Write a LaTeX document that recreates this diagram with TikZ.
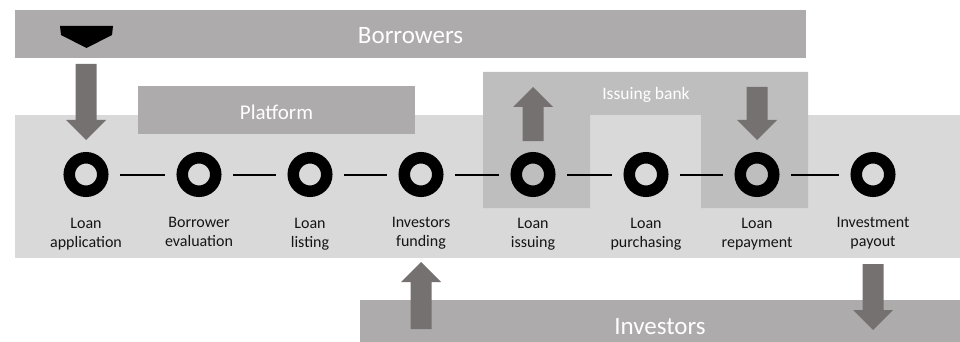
\documentclass[tikz,border=0pt]{standalone}
\usepackage{fontspec}
\setmainfont{Carlito}
\usetikzlibrary{calc}
\definecolor{bandgray}{HTML}{D9D9D9}
\definecolor{bargray}{HTML}{ADABAB}
\definecolor{bankgray}{HTML}{BFBEBE}
\definecolor{arrowgray}{HTML}{767171}
\definecolor{labelink}{HTML}{141414}

% Block arrow lined up with a node: #1 node, #2 tail y, #3 y where the head begins, #4 tip y
\newcommand\blockarrow[4]{%
  \fill[arrowfill]
    ([xshift=-10.5pt]#1 |- 0,#2) -- ([xshift=10.5pt]#1 |- 0,#2)
    -- ([xshift=10.5pt]#1 |- 0,#3) -- ([xshift=20pt]#1 |- 0,#3)
    -- (#1 |- 0,#4) -- ([xshift=-20pt]#1 |- 0,#3)
    -- ([xshift=-10.5pt]#1 |- 0,#3) -- cycle;}

\begin{document}
\begin{tikzpicture}[x=1pt,y=-1pt,
  bar/.style={fill=bargray, text=white, inner sep=0, text depth=0pt},
  stage/.style={circle, draw=black, line width=11.5pt, minimum size=33.5pt, inner sep=0},
  stagelabel/.style={anchor=north, align=center, inner sep=0, text=labelink,
    font=\fontsize{16}{19}\selectfont},
  link/.style={line width=2pt, shorten <=11.5pt, shorten >=11.5pt},
  arrowfill/.style={fill=arrowgray}]

\useasboundingbox (0,0) rectangle (960,342);
\clip (0,0) rectangle (960,342);

% process band
\fill[bandgray] (15,115) rectangle (960,258);

% issuing bank region, open over the purchasing stage
\fill[bankgray] (483,72) -- (808,72) -- (808,208) -- (701,208) -- (701,115)
  -- (590,115) -- (590,208) -- (483,208) -- cycle;
\node[anchor=base, text=white, inner sep=0, font=\fontsize{17.5}{20}\selectfont]
  (bank) at (646,100) {Issuing bank};

% actors
\node[bar, minimum width=791pt, minimum height=48pt, text height=20pt,
  font=\fontsize{25}{30}\selectfont] (borrowers) at (410.5,34) {Borrowers};
\node[bar, minimum width=277pt, minimum height=48pt, text height=19pt,
  font=\fontsize{21}{25}\selectfont] (platform) at (276.5,110) {Platform};
\node[bar, minimum width=600pt, minimum height=52pt, text height=16pt,
  font=\fontsize{25}{30}\selectfont] (investors) at (660,326) {Investors};

% marker on the borrowers bar
\fill[black] (60,26) -- (113,26) -- (112,35) -- (86.5,48) -- (61,35) -- cycle;

% stages
\foreach \name/\x in {app/86, eval/199, list/310, fund/421, issue/533,
                      purch/646, repay/757, payout/873}
  \node[stage] (\name) at (\x,174.5) {};

\foreach \a/\b in {app/eval, eval/list, list/fund, fund/issue,
                   issue/purch, purch/repay, repay/payout}
  \draw[link] (\a) -- (\b);

\node[stagelabel] at (app |- 0,218)    {Loan\\application};
\node[stagelabel] at (eval |- 0,217)   {Borrower\\evaluation};
\node[stagelabel] at (list |- 0,218)   {Loan\\listing};
\node[stagelabel] at (fund |- 0,217)   {Investors\\funding};
\node[stagelabel] at (issue |- 0,218)  {Loan\\issuing};
\node[stagelabel] at (purch |- 0,218)  {Loan\\purchasing};
\node[stagelabel] at (repay |- 0,218)  {Loan\\repayment};
\node[stagelabel] at (payout |- 0,217) {Investment\\payout};

% flows between actors and stages
\blockarrow{app}{64}{120}{140}
\blockarrow{issue}{141}{107}{87}
\blockarrow{repay}{87}{120}{140}
\blockarrow{fund}{329}{282}{262}
\blockarrow{payout}{264}{310}{330}

\end{tikzpicture}
\end{document}
